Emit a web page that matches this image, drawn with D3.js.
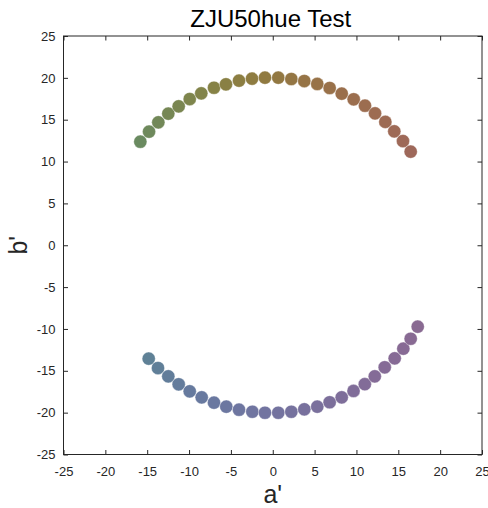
<!DOCTYPE html>
<html><head><meta charset="utf-8">
<script src="https://cdn.jsdelivr.net/npm/d3@7"></script>
<style>body{margin:0;background:#fff;} text{font-family:"Liberation Sans",Arial,sans-serif;}</style>
</head><body>
<svg id="c" width="488" height="508"></svg>
<script>
const title = "ZJU50hue Test";
const xLabel = "a'";
const yLabel = "b'";
const xTicks = [-25,-20,-15,-10,-5,0,5,10,15,20,25];
const yTicks = [-25,-20,-15,-10,-5,0,5,10,15,20,25];

const upperA = [-15.82,-14.78,-13.67,-12.48,-11.24,-9.92,-8.54,-7.02,-5.59,-4.03,-2.48,-0.93,0.66,2.22,3.77,5.32,6.80,8.24,9.67,11.02,12.22,13.45,14.52,15.56,16.48];
const upperB = [12.37,13.57,14.69,15.72,16.60,17.47,18.15,18.82,19.23,19.66,19.90,20.02,20.02,19.86,19.62,19.27,18.79,18.11,17.44,16.67,15.76,14.74,13.61,12.45,11.18];
const upperColor = ["#6a8a60","#6e895c","#728858","#768754","#7a8651","#7e854d","#82844a","#868246","#898044","#8c7e42","#8e7c41","#907a41","#927842","#947644","#967446","#987348","#99714a","#9a6f4c","#9b6e4e","#9c6d50","#9d6c52","#9d6b54","#9e6a56","#9e6958","#9e685a"];

const lowerA = [-14.82,-13.71,-12.48,-11.24,-9.92,-8.49,-7.02,-5.55,-4.03,-2.44,-0.93,0.66,2.22,3.77,5.32,6.80,8.24,9.65,11.00,12.19,13.38,14.57,15.60,16.48,17.32];
const lowerB = [-13.55,-14.67,-15.66,-16.61,-17.45,-18.17,-18.81,-19.29,-19.65,-19.89,-20.01,-20.01,-19.89,-19.60,-19.29,-18.76,-18.17,-17.41,-16.60,-15.66,-14.58,-13.51,-12.36,-11.17,-9.73];
const lowerColor = ["#5f8196","#607f98","#627d9a","#647c9c","#667a9e","#68799f","#6a78a0","#6c77a0","#6e76a0","#7075a0","#7274a0","#74739f","#76729e","#78719d","#7a709c","#7c6f9b","#7e6e9a","#806d99","#826c98","#846b97","#856b96","#866a95","#876a94","#886a93","#896a92"];

const L = 63.5, R = 482, T = 36, B = 454.5;
const svg = d3.select("#c");
const x = d3.scaleLinear().domain([-25,25]).range([L,R]);
const y = d3.scaleLinear().domain([-25,25]).range([B,T]);
const axColor = "#262626";

function styleAxis(g){
  g.select(".domain").remove();
  g.selectAll(".tick line").attr("stroke",axColor).attr("stroke-width",1);
  g.selectAll(".tick text").attr("fill",axColor).attr("font-size","13px").attr("font-family","Liberation Sans, Arial, sans-serif");
}
svg.append("g").attr("transform",`translate(0,${B})`)
  .call(d3.axisBottom(x).tickValues(xTicks).tickSizeInner(-4.5).tickSizeOuter(0).tickPadding(12))
  .call(styleAxis);
svg.append("g").attr("transform",`translate(0,${T})`)
  .call(d3.axisTop(x).tickValues(xTicks).tickSizeInner(-4.5).tickSizeOuter(0).tickFormat(""))
  .call(styleAxis);
svg.append("g").attr("transform",`translate(${L},0)`)
  .call(d3.axisLeft(y).tickValues(yTicks).tickSizeInner(-4.5).tickSizeOuter(0).tickPadding(8))
  .call(styleAxis);
svg.append("g").attr("transform",`translate(${R},0)`)
  .call(d3.axisRight(y).tickValues(yTicks).tickSizeInner(-4.5).tickSizeOuter(0).tickFormat(""))
  .call(styleAxis);
svg.selectAll(".tick text").filter(function(){return this.textContent.startsWith("−");})
  .text(function(){return this.textContent.replace("−","-");});

svg.append("rect").attr("x",L).attr("y",T).attr("width",R-L).attr("height",B-T)
  .attr("fill","none").attr("stroke",axColor).attr("stroke-width",1);

const upper = upperA.map((a,i)=>({a, b:upperB[i], c:upperColor[i]}));
const lower = lowerA.map((a,i)=>({a, b:lowerB[i], c:lowerColor[i]}));
svg.append("g").selectAll("circle").data(upper.concat(lower)).join("circle")
  .attr("cx",d=>x(d.a)).attr("cy",d=>y(d.b)).attr("r",6.6)
  .attr("fill",d=>d.c).attr("stroke","#ffffff").attr("stroke-opacity",0.6).attr("stroke-width",0.6);

svg.append("text").attr("x",(L+R)/2 - 2).attr("y",27).attr("text-anchor","middle")
  .attr("font-size","24px").attr("fill","#000").text(title);
svg.append("text").attr("x",(L+R)/2).attr("y",503).attr("text-anchor","middle")
  .attr("font-size","25px").attr("fill","#262626").text(xLabel);
svg.append("text").attr("transform",`translate(27,${(T+B)/2}) rotate(-90)`).attr("text-anchor","middle")
  .attr("font-size","25px").attr("fill","#262626").text(yLabel);
</script>
</body></html>
